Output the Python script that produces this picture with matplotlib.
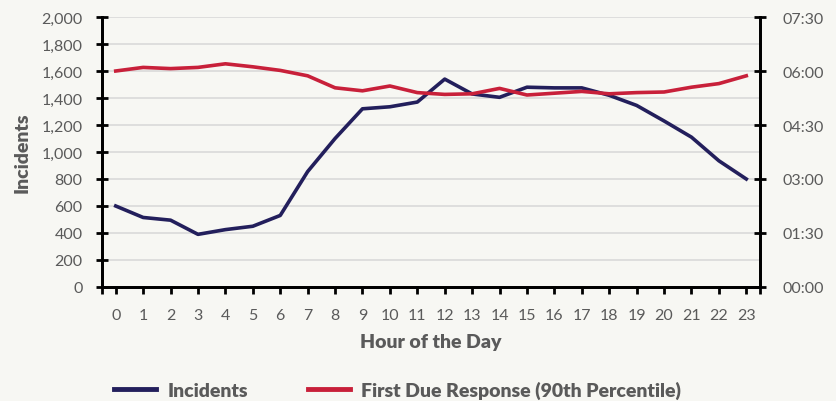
import matplotlib.pyplot as plt
from matplotlib.ticker import FuncFormatter, MultipleLocator, FixedLocator

# Дані
hours = list(range(24))
incidents = [600, 515, 495, 390, 425, 450, 530, 855, 1100, 1320, 1335, 1370,
             1540, 1430, 1405, 1480, 1475, 1475, 1420, 1345, 1230, 1110, 935, 800]
# First due response, 90th percentile, seconds
response_sec = [360, 366, 364, 366, 372, 367, 361, 352, 332, 327, 335, 324,
                321, 322, 331, 320, 323, 326, 322, 324, 325, 333, 339, 352]

navy = "#231f5c"
red = "#c8203a"
grey = "#5a5a5a"
bg = "#f7f7f3"

plt.rcParams["font.family"] = ["Lato", "DejaVu Sans"]

fig = plt.figure(figsize=(8.37, 4.02), dpi=100, facecolor=bg)
ax = fig.add_axes([0.1219, 0.2836, 0.7861, 0.6716])
ax.set_facecolor(bg)
ax2 = ax.twinx()

l1, = ax.plot(hours, incidents, color=navy, lw=2.6, label="Incidents", zorder=3)
l2, = ax2.plot(hours, response_sec, color=red, lw=2.6,
               label="First Due Response (90th Percentile)", zorder=3)

ax.set_xlim(-0.5, 23.5)
ax.set_ylim(0, 2000)
ax2.set_ylim(0, 450)

ax.yaxis.set_major_locator(MultipleLocator(200))
ax.yaxis.set_major_formatter(FuncFormatter(lambda v, p: f"{int(v):,}"))
ax2.yaxis.set_major_locator(MultipleLocator(90))
ax2.yaxis.set_major_formatter(
    FuncFormatter(lambda v, p: f"{int(v) // 60:02d}:{int(v) % 60:02d}"))

ax.set_xticks(hours)
ax.xaxis.set_minor_locator(FixedLocator([-0.5, 23.5]))

ax.grid(axis="y", color="#d9d9d9", lw=1.2, zorder=0)
ax.set_axisbelow(True)

for a in (ax, ax2):
    a.spines["top"].set_visible(False)
    for s in ("left", "right", "bottom"):
        a.spines[s].set_linewidth(2)
        a.spines[s].set_color("black")

ax.tick_params(axis="y", direction="inout", length=8, width=2,
               labelsize=11.5, labelcolor=grey, pad=10)
ax2.tick_params(axis="y", direction="inout", length=8, width=2,
                labelsize=11.5, labelcolor=grey, pad=12)
ax.tick_params(axis="x", which="both", direction="out", length=5, width=2,
               labelsize=11.5, labelcolor=grey, pad=10)

ax.set_xlabel("Hour of the Day", fontsize=14, fontweight="heavy", color=grey, labelpad=8)
ax.set_ylabel("Incidents", fontsize=14, fontweight="heavy", color=grey, labelpad=8)

fig.legend(handles=[l1, l2], loc="center left", bbox_to_anchor=(104 / 837, 11 / 402),
           ncol=2, frameon=False, borderpad=0, handlelength=2.15, handletextpad=0.6,
           columnspacing=3.1, prop={"weight": "heavy", "size": 14}, labelcolor=grey)
for h in fig.legends[0].legend_handles:
    h.set_linewidth(3.5)

fig.savefig("out.png", dpi=100, facecolor=bg)
